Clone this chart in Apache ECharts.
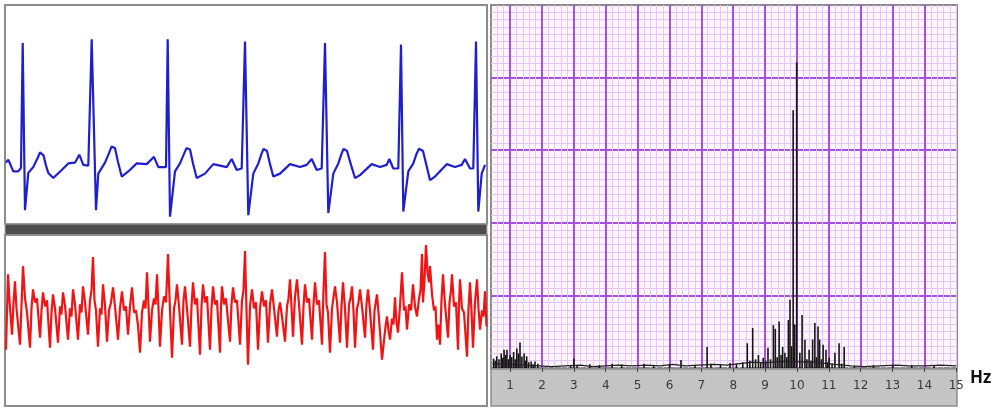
<!DOCTYPE html>
<html>
<head>
<meta charset="utf-8">
<script src="https://cdn.jsdelivr.net/npm/echarts@6/dist/echarts.min.js"></script>
<style>
  html, body { margin: 0; padding: 0; background: #fff; }
  #main { width: 993px; height: 408px; }
</style>
</head>
<body>
<div id="main"></div>
<script>
// ECG trace, top left panel: [time ms, mV]
var ecgPoints = [
  [10,0.04],[33,0.08],[83,-0.08],[133,-0.08],[160,-0.03],[177,1.68],[200,-0.61],[233,-0.10],[283,-0.02],
  [325,0.10],[350,0.18],[367,0.19],[385,0.14],[410,0.00],[433,-0.10],[483,-0.17],[567,-0.06],[633,0.03],
  [700,0.04],[743,0.15],[783,0.01],[833,0.00],
  [852,-0.01],[867,1.73],[910,-0.61],[933,-0.11],[1000,0.04],[1040,0.17],[1065,0.26],[1083,0.28],[1100,0.24],
  [1130,0.05],[1167,-0.15],[1233,-0.08],[1317,0.03],
  [1417,0.02],[1490,0.12],[1533,-0.02],[1583,-0.02],[1610,-0.02],[1627,1.73],[1650,-0.70],[1700,-0.08],
  [1750,0.03],[1790,0.16],[1815,0.24],[1833,0.26],[1850,0.22],[1880,0.03],[1917,-0.17],[2000,-0.11],[2083,0.02],
  [2217,-0.02],[2267,0.09],[2317,-0.06],
  [2367,-0.04],[2385,-0.03],[2400,1.70],[2433,-0.68],[2483,-0.11],[2533,0.03],[2565,0.16],[2585,0.23],[2600,0.24],
  [2620,0.20],[2650,0.02],[2683,-0.15],
  [2750,-0.11],[2850,0.02],[2950,-0.02],[3017,0.01],[3067,0.09],[3117,-0.06],[3167,-0.04],[3185,-0.03],
  [3200,1.68],[3233,-0.65],[3283,-0.11],[3333,0.03],[3365,0.16],[3385,0.23],[3400,0.24],[3420,0.20],[3460,0.01],
  [3500,-0.17],[3550,-0.13],[3667,0.02],
  [3750,-0.02],[3817,0.01],[3843,0.09],[3883,-0.04],[3933,-0.04],[3945,-0.03],[3960,1.66],[3983,-0.63],
  [4033,-0.08],[4083,0.03],[4115,0.16],[4140,0.23],[4160,0.24],[4180,0.20],[4215,0.00],[4250,-0.20],[4300,-0.15],
  [4417,0.02],[4500,-0.02],[4567,0.01],
  [4600,0.09],[4650,-0.04],[4683,-0.04],[4695,-0.03],[4710,1.70],[4733,-0.63],[4767,-0.11],[4800,0.01]
];

// red trace, bottom left panel: [time ms, uV]
var eegPoints = [
  [10,-29],[30,46],[45,20],[70,-14],[85,18],[100,39],[115,12],[150,-24],[165,15],[180,54],[200,22],[220,8],
  [250,-27],[265,12],[280,31],[300,18],[320,22],[350,-17],[365,10],[380,28],[400,14],[420,20],[450,-27],
  [465,8],[480,26],[500,12],[530,-22],[550,14],[565,6],[580,28],[600,15],[630,-19],[650,12],[665,4],[680,31],
  [700,16],[730,-19],[750,16],[765,8],[780,34],[800,18],[830,-14],[850,20],[865,30],[880,63],[895,20],[910,10],
  [930,-26],[950,12],[965,6],[980,36],[1000,15],[1020,-21],[1040,10],[1060,18],[1080,33],[1100,14],[1130,-19],
  [1150,12],[1170,29],[1190,10],[1210,14],[1230,-14],[1250,14],[1270,33],[1290,8],[1310,10],[1330,-5],[1350,-32],
  [1370,8],[1390,20],[1405,12],[1420,48],[1435,14],[1450,-21],[1470,10],[1490,22],[1505,16],[1520,46],[1535,12],
  [1550,-26],[1570,10],[1590,24],[1610,18],[1630,66],[1650,10],[1670,-37],[1690,12],[1705,20],[1720,36],[1740,14],
  [1770,-24],[1785,20],[1800,34],[1820,12],[1850,-26],[1865,14],[1880,38],[1900,16],[1920,22],[1950,-34],[1965,14],
  [1980,36],[2000,18],[2020,24],[2050,-29],[2065,12],[2080,34],[2100,16],[2120,20],[2150,-32],[2160,14],[2170,34],
  [2190,16],[2210,22],[2250,-21],[2265,16],[2280,33],[2300,18],[2320,20],[2350,-24],[2370,20],[2385,30],[2400,69],
  [2415,10],[2430,-44],[2450,14],[2470,31],[2490,12],[2510,18],[2530,-29],[2550,12],[2570,29],[2590,14],[2610,20],
  [2630,-22],[2650,16],[2670,31],[2690,12],[2720,-16],[2735,10],[2750,18],[2770,4],[2800,-21],[2820,14],[2835,22],
  [2850,41],[2865,14],[2880,-16],[2900,24],[2920,41],[2940,16],[2970,-24],[2985,14],[3000,36],[3020,18],[3040,22],
  [3070,-19],[3085,16],[3100,38],[3120,16],[3140,20],[3170,-24],[3185,30],[3200,68],[3215,16],[3230,8],[3250,-32],
  [3270,12],[3300,34],[3320,18],[3350,-22],[3365,14],[3380,38],[3400,12],[3420,-27],[3440,16],[3455,22],[3470,34],
  [3485,10],[3500,-27],[3520,12],[3535,18],[3550,31],[3570,14],[3600,-17],[3615,16],[3630,31],[3650,10],[3680,-29],
  [3695,10],[3720,26],[3740,2],[3770,-39],[3790,-20],[3805,-6],[3820,4],[3835,-10],[3850,-19],[3870,2],[3885,-4],
  [3900,23],[3915,-2],[3930,-12],[3950,14],[3970,48],[3990,10],[4005,14],[4020,-9],[4040,16],[4060,10],[4080,36],
  [4100,14],[4120,4],[4140,22],[4155,30],[4170,66],[4180,18],[4195,40],[4210,75],[4225,48],[4240,38],[4250,54],
  [4270,26],[4290,10],[4305,14],[4320,-19],[4335,-4],[4350,-24],[4365,20],[4380,46],[4400,16],[4430,-17],[4445,18],
  [4460,30],[4470,46],[4490,14],[4510,18],[4530,-29],[4540,16],[4550,41],[4570,12],[4590,8],[4620,-36],[4635,12],
  [4650,38],[4665,10],[4680,-27],[4700,18],[4720,41],[4735,12],[4750,-9],[4770,10],[4785,4],[4800,29],[4815,-6]
];

// spectrum lines, right panel
var specHz = [
  0.48,0.53,0.58,0.65,0.72,0.77,0.81,0.86,0.90,0.95,1.00,1.05,1.11,1.16,1.21,1.26,1.31,1.37,1.44,1.48,
  1.52,1.58,1.66,1.72,1.78,1.87,2.9,3.0,3.1,3.5,3.8,4.2,4.5,5.2,5.5,6.0,6.36,6.8,7.18,7.3,7.6,7.9,8.1,8.3,
  8.44,8.52,8.61,8.70,8.79,8.86,8.94,9.02,9.09,9.17,9.26,9.32,9.38,9.44,9.50,9.55,9.62,9.68,9.73,9.78,9.83,
  9.88,9.93,9.99,10.09,10.16,10.25,10.31,10.38,10.44,10.49,10.56,10.61,10.66,10.71,10.77,10.82,10.91,10.96,
  11.01,11.10,11.19,11.32,11.40,11.48,11.8,12.4,13.0,13.6,14.3
];
var specAmp = [
  0.13,0.10,0.16,0.12,0.20,0.14,0.25,0.18,0.25,0.12,0.18,0.15,0.22,0.12,0.27,0.20,0.35,0.16,0.20,0.10,
  0.16,0.08,0.09,0.05,0.09,0.06,0.04,0.13,0.04,0.05,0.04,0.06,0.05,0.06,0.04,0.05,0.11,0.04,0.29,0.06,0.05,0.07,0.06,0.08,
  0.34,0.10,0.55,0.12,0.18,0.08,0.14,0.10,0.28,0.12,0.59,0.54,0.15,0.64,0.18,0.29,0.21,0.15,0.66,0.94,0.30,
  3.55,0.60,4.21,0.21,0.73,0.39,0.12,0.25,0.10,0.39,0.62,0.15,0.57,0.39,0.12,0.32,0.25,0.08,
  0.14,0.06,0.21,0.34,0.06,0.29,0.03,0.04,0.03,0.04,0.03
];
var floorHz = [0.45,1.9,2.3,2.7,3.2,3.6,4.0,4.4,4.8,5.3,5.7,6.1,6.5,6.9,7.4,7.8,8.2,8.6,9.0,9.5,10.5,11.2,11.7,12.1,12.6,13.1,13.5,14.0,14.5,15.0];
var floorAmp = [0.06,0.03,0.02,0.03,0.04,0.02,0.03,0.04,0.03,0.04,0.03,0.05,0.03,0.04,0.05,0.04,0.06,0.08,0.07,0.09,0.08,0.05,0.03,0.02,0.03,0.04,0.03,0.03,0.04,0.03];
var hzTicks = [1,2,3,4,5,6,7,8,9,10,11,12,13,14,15];

var minorColor = '#e2c6f4';
var majorColor = '#a64fe0';

var chart = echarts.init(document.getElementById('main'));

var hidden = { show: false };
function box(left, top, width, height, bg, border, bw) {
  return {
    left: left, top: top, width: width, height: height, outerBoundsMode: 'none',
    show: true, backgroundColor: bg, borderColor: border, borderWidth: bw
  };
}

chart.setOption({
  animation: false,
  grid: [
    box(5, 5, 482, 219, '#fff', '#8c8c8c', 2),
    box(5, 224, 482, 11, '#4d4d4d', '#a8a8a8', 1),
    box(5, 235, 482, 171, '#fff', '#8c8c8c', 2),
    box(491, 5, 466, 363, '#fdf4fc', '#8c8c8c', 2),
    box(491, 369, 466, 37, '#c4c4c4', '#8c8c8c', 1.5)
  ],
  xAxis: [
    { gridIndex: 0, type: 'value', min: 0, max: 4820, show: false },
    { gridIndex: 1, type: 'value', min: 0, max: 1, show: false },
    { gridIndex: 2, type: 'value', min: 0, max: 4820, show: false },
    {
      gridIndex: 3, type: 'value', position: 'bottom', min: 0.4, max: 15.02, interval: 0.2,
      axisLine: hidden, axisTick: hidden, axisLabel: hidden,
      splitLine: { show: true, showMinLine: false, showMaxLine: false, lineStyle: { color: minorColor, width: 1 } }
    },
    {
      gridIndex: 3, type: 'value', position: 'bottom', min: 0.4, max: 15.02, interval: 0.2, offset: 3,
      axisLine: { show: false },
      axisTick: { show: true, customValues: hzTicks, length: 4, lineStyle: { color: '#444', width: 1 } },
      axisLabel: { customValues: hzTicks, margin: 9, color: '#3a3a3a', fontSize: 12, fontFamily: 'DejaVu Sans' },
      splitLine: { show: true, showMaxLine: false, lineStyle: { color: majorColor, width: 2 } },
      name: 'Hz', nameLocation: 'end', nameGap: 9,
      nameTextStyle: { fontFamily: 'Open Sans', fontWeight: 'bold', fontSize: 17, color: '#111', verticalAlign: 'top', padding: [2, 0, 0, 0] }
    },
    { gridIndex: 4, type: 'value', min: 0, max: 1, show: false }
  ],
  yAxis: [
    { gridIndex: 0, type: 'value', min: -0.8, max: 2.2, show: false },
    { gridIndex: 1, type: 'value', min: 0, max: 1, show: false },
    { gridIndex: 2, type: 'value', min: -85, max: 85, show: false },
    {
      gridIndex: 3, type: 'value', min: 0, max: 5, interval: 0.1,
      axisLine: hidden, axisTick: hidden, axisLabel: hidden,
      splitLine: { show: true, showMinLine: false, showMaxLine: false, lineStyle: { color: minorColor, width: 1 } }
    },
    {
      gridIndex: 3, type: 'value', min: 0, max: 5, interval: 1,
      axisLine: hidden, axisTick: hidden, axisLabel: hidden,
      splitLine: { show: true, showMinLine: false, showMaxLine: false, lineStyle: { color: majorColor, width: 2 } }
    },
    { gridIndex: 4, type: 'value', min: 0, max: 1, show: false }
  ],
  series: [
    {
      type: 'line', xAxisIndex: 0, yAxisIndex: 0, data: ecgPoints,
      showSymbol: false, lineStyle: { color: '#1f1fcf', width: 2.2 }
    },
    {
      type: 'line', xAxisIndex: 2, yAxisIndex: 2, data: eegPoints,
      showSymbol: false, lineStyle: { color: '#f01414', width: 2.2 }
    },
    {
      type: 'line', xAxisIndex: 3, yAxisIndex: 3,
      data: floorHz.map(function (h, i) { return [h, floorAmp[i]]; }),
      showSymbol: false, lineStyle: { color: '#222', width: 1.2 }
    },
    {
      type: 'bar', xAxisIndex: 3, yAxisIndex: 3,
      data: specHz.map(function (h, i) { return [h, specAmp[i]]; }),
      barWidth: 1.6, itemStyle: { color: '#151515' }
    }
  ]
});
</script>
</body>
</html>
